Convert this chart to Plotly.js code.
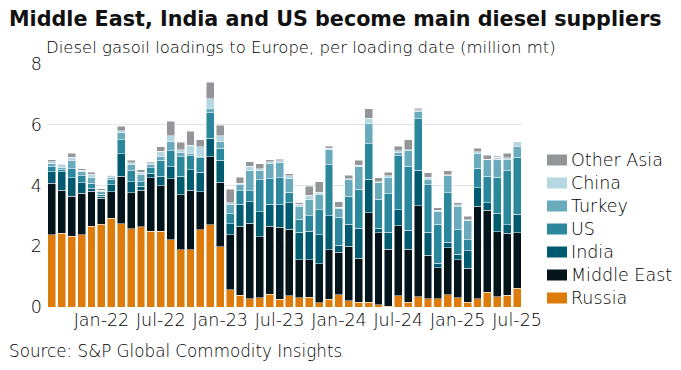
<!DOCTYPE html>
<html><head><meta charset="utf-8">
<script src="https://cdn.plot.ly/plotly-3.0.1.min.js"></script>
<style>body{margin:0;background:#fff}#c{width:681px;height:370px}</style>
</head><body><div id="c"></div>
<script>
const months = ["Aug-21","Sep-21","Oct-21","Nov-21","Dec-21","Jan-22","Feb-22","Mar-22","Apr-22","May-22","Jun-22","Jul-22",
"Aug-22","Sep-22","Oct-22","Nov-22","Dec-22","Jan-23","Feb-23","Mar-23","Apr-23","May-23","Jun-23","Jul-23",
"Aug-23","Sep-23","Oct-23","Nov-23","Dec-23","Jan-24","Feb-24","Mar-24","Apr-24","May-24","Jun-24","Jul-24",
"Aug-24","Sep-24","Oct-24","Nov-24","Dec-24","Jan-25","Feb-25","Mar-25","Apr-25","May-25","Jun-25","Jul-25"];
const tickLabels = ["Jan-22","Jul-22","Jan-23","Jul-23","Jan-24","Jul-24","Jan-25","Jul-25"];

const russia = [2.38,2.42,2.33,2.38,2.66,2.73,2.93,2.74,2.58,2.64,2.50,2.50,2.22,1.88,1.88,2.55,2.71,1.99,0.57,0.38,0.27,0.31,0.42,0.25,0.37,0.30,0.32,0.14,0.26,0.40,0.20,0.15,0.15,0.08,0.02,0.37,0.15,0.34,0.27,0.28,0.40,0.31,0.16,0.28,0.48,0.34,0.38,0.62];
const middleEast = [1.70,1.42,1.32,1.36,1.15,0.85,0.86,1.57,1.18,1.20,1.76,1.50,2.00,1.82,1.96,1.25,2.24,2.11,1.81,2.28,2.48,2.01,2.24,2.38,2.19,1.25,1.23,1.29,1.62,1.40,1.80,1.46,2.96,2.37,1.88,2.31,1.75,3.00,1.43,1.01,1.55,1.25,1.12,3.03,2.70,2.13,2.05,1.82];
const india = [0.37,0.62,0.60,0.35,0.10,0.06,0.23,0.74,0.37,0.14,0.14,0.30,0.39,0.61,0.68,0.63,0.60,0.73,0.36,0.72,0.71,0.81,0.72,0.73,0.88,0.91,0.95,0.95,1.12,0.23,0.72,0.98,1.10,0.14,0.56,0.53,0.62,1.16,0.76,0.15,0.18,0.17,0.58,0.62,0.25,0.61,0.27,0.61];
const us = [0.16,0.06,0.30,0.23,0.17,0.08,0.18,0.46,0.35,0.15,0.19,0.53,0.53,0.64,0.46,0.49,0.84,0.39,0.33,0.45,0.37,1.06,0.85,0.89,0.33,0.43,0.50,0.83,1.69,0.93,0.93,1.28,1.16,0.95,1.27,1.77,2.12,1.69,1.56,1.29,1.63,0.82,0.36,0.63,0.88,1.19,1.78,1.88];
const turkey = [0.11,0.08,0.27,0.13,0.20,0.07,0.08,0.25,0.20,0.24,0.11,0.14,0.32,0.14,0.07,0.05,0.15,0.24,0.30,0.19,0.65,0.31,0.49,0.50,0.47,0.43,0.54,0.48,0.50,0.29,0.55,0.74,0.66,0.55,0.54,0.11,0.52,0.26,0.19,0.42,0.57,0.76,0.62,0.49,0.54,0.58,0.38,0.36];
const china = [0.07,0.08,0.11,0.05,0.09,0.05,0.05,0.05,0.07,0.06,0.05,0.16,0.18,0.09,0.27,0.30,0.32,0.17,0.07,0.05,0.16,0.05,0.06,0.06,0.08,0.07,0.14,0.09,0.03,0.03,0.02,0.06,0.18,0.04,0.05,0.05,0.01,0.04,0.06,0.04,0.03,0.06,0.03,0.06,0.02,0.08,0.06,0.15];
const otherAsia = [0.06,0.02,0.14,0.05,0.07,0.06,0.03,0.14,0.08,0.09,0.04,0.15,0.48,0.25,0.46,0.24,0.54,0.35,0.44,0.21,0.15,0.17,0.06,0.06,0.07,0.05,0.30,0.35,0.07,0.18,0.12,0.16,0.31,0.13,0.12,0.16,0.33,0.05,0.15,0.08,0.12,0.07,0.12,0.11,0.13,0.03,0.14,0.00];

const seriesNames = ["Russia","Middle East","India","US","Turkey","China","Other Asia"];
const seriesValues = [russia, middleEast, india, us, turkey, china, otherAsia];
const seriesColors = ["#de7c0b","#04141b","#005a70","#2b879c","#6aaabd","#b5d7e0","#939598"];

const font = "'DejaVu Sans', sans-serif";
const txt = "#000";
const traces = seriesNames.map((n,i) => ({
  type:"bar", name:n, x:months, y:seriesValues[i],
  marker:{color:seriesColors[i], line:{color:"rgba(255,255,255,0.8)", width:0.6}},
  hoverinfo:"skip", showlegend:false
}));

const L=47, R=159, T=64, B=63, W=681, H=370;
const pw=W-L-R, ph=H-T-B;
const px2x = px => (px-L)/pw;
const py2y = py => (H-B-py)/ph;

const shapes=[], annotations=[];
seriesNames.forEach((n,i) => {
  const cy = 298 - i*23;
  shapes.push({type:"rect", xref:"paper", yref:"paper", x0:px2x(547), x1:px2x(567),
    y0:py2y(cy+5.5), y1:py2y(cy-5.5), fillcolor:seriesColors[i], line:{width:0}});
  annotations.push({text:n, xref:"paper", yref:"paper", x:px2x(569), y:py2y(cy),
    xanchor:"left", yanchor:"middle", showarrow:false, font:{size:17.5, color:txt, family:font, weight:300}});
});
annotations.push(
  {text:"<b>Middle East, India and US become main diesel suppliers</b>", xref:"paper", yref:"paper",
   x:px2x(7), y:py2y(19), xanchor:"left", yanchor:"middle", showarrow:false,
   font:{size:20.7, color:"#111", family:font}},
  {text:"Diesel gasoil loadings to Europe, per loading date (million mt)", xref:"paper", yref:"paper",
   x:px2x(44), y:py2y(47), xanchor:"left", yanchor:"middle", showarrow:false,
   font:{size:16.5, color:txt, family:font, weight:300}},
  {text:"Source: S&P Global Commodity Insights", xref:"paper", yref:"paper",
   x:px2x(7), y:py2y(351), xanchor:"left", yanchor:"middle", showarrow:false,
   font:{size:16.75, color:txt, family:font, weight:300}}
);

const layout = {
  width:W, height:H, barmode:"stack", bargap:0.2,
  paper_bgcolor:"#fff", plot_bgcolor:"#fff",
  margin:{l:L, r:R, t:T, b:B},
  font:{family:font, size:17.5, color:txt, weight:300},
  xaxis:{type:"category", tickmode:"array", tickvals:tickLabels, ticktext:tickLabels,
    showgrid:false, ticks:"", tickfont:{size:17.5, color:txt, family:font, weight:300}, range:[-0.5,47.5], fixedrange:true},
  yaxis:{range:[0,8], dtick:2, showgrid:true, gridcolor:"#e3e3e3", gridwidth:1, zeroline:false,
    ticks:"", tickfont:{size:17.5, color:txt, family:font, weight:300}, ticklabelstandoff:4, fixedrange:true},
  showlegend:false,
  shapes:shapes, annotations:annotations
};
Plotly.newPlot("c", traces, layout, {staticPlot:true, displayModeBar:false});
</script></body></html>
